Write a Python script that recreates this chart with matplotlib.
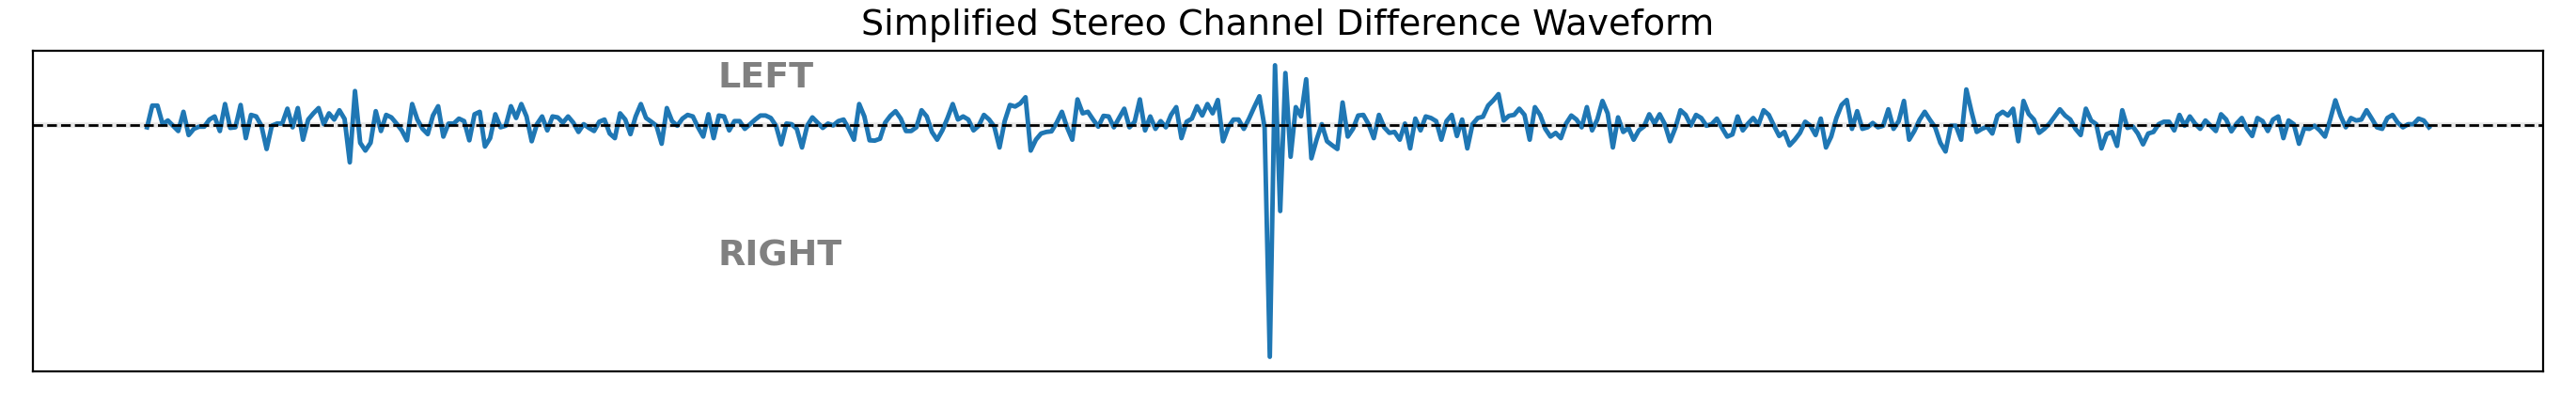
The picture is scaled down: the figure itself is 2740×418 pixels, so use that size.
import numpy as np
import matplotlib
matplotlib.use("Agg")
import matplotlib.pyplot as plt

title = "Simplified Stereo Channel Difference Waveform"
label_left = "LEFT"
label_right = "RIGHT"

# L-R difference amplitude (arbitrary units)
seg_a = [-7, 63, 63, 3, 15, -2, -19, 43, -32, -12, -5, -5, 18, 28, -19, 68, -9, -7, 65, -42,
         33, 28, -2, -77, -2, 5, 5, 53, -7, 55, -47, 18, 38, 55, 3, 38, 18, 48, 20]
seg_b = [-120, 110, -57, -82, -57, 45, -19, 33, 25, 5, -17, -49, 68, 18, -12, -29, 31, 61, -37, 5,
         5, 21, 13, -49, 35, 43, -69, -42, 35, -7, -2, 61, 23, 68, 28, -52, 3, 28, -17, 28]
seg_c = [25, 8, 28, 8, -22, 3, -9, -19, 11, 18, -27, -42, 38, 18, -29, 28, 68, 23, 11, -2,
         -60, 55, 13, -2, 21, 33, 28, -7, -37, 35, -42, 31, 28, -17, 13, 13, -12, 3, 18]
seg_d = [31, 31, 23, -2, -62, 5, 3, -12, -72, -2, 25, 8, -9, 5, -1, 13, 18, -12, -47, 68,
         28, -49, -50, -44, 8, 30, 45, 21, -19, -19, -7, 48, 28, -22, -47, -17, 23, 68, 18, 28]
seg_e = [18, -17, -2, 33, 18, -5, -72, 13, 65, 60, 70, 90, -82, -47, -27, -22, -20, 8, 43, -7,
         -47, 83, 38, 43, 18, -5, 30, 28, -7, 23, 53, -7, 11, 83, -17, 28, -12, 13, -7, 33]
seg_f = [58, -42, 11, 21, 61, 31, 68, 38, 81, -52, -7, 18, 18, -12, 21, 58, 93, -7, -747, 193,
         -277, 168, -102, 58, 28, 148, -107, -47, 3, -52, -65, -77, 73, -37, -12, 31, 33, 3, -42, 33]
seg_g = [-7, -25, -22, -47, 5, -75, 21, -17, 28, 23, 13, -47, 13, 33, -35, 18, -75, 3, 23, 27,
         63, 80, 100, 15, 30, 33, 53, 33, -47, 58, 33, -12, -37, -25, -42, 5, 31, 18, -7, 58]
seg_h = [-17, 18, 78, 38, -72, 25, -22, -9, -47, -17, -4, 35, 5, 35, 3, -52, -10, 48, 33, -1,
         33, 23, -2, 3, 21, -9, -37, -30, 28, -17, 5, 23, 1, 48, 33, -2, -35, -22, -65]
seg_i = [-47, -25, 11, -2, -32, 21, -72, -37, 23, 65, 81, -12, 45, -12, -7, 7, -7, -2, 51, -12,
         13, 78, -47, -19, 17, 43, 17, -7, -57, -85, -2, -2, -47, 115, 43, -22, -12, -5, -27, 31]
seg_j = [43, 31, 53, -52, 78, 36, 18, -25, -12, 5, 28, 51, 31, 18, -12, -32, 53, 15, 3, -75,
         -29, -22, -67, 48, -9, -4, -27, -62, -27, -22, 3, 11, 11, -17, 33, -2, 28, 5, -12, 15]
seg_k = [-2, -19, 35, 18, -20, 5, 23, -12, -35, 23, 13, -19, 18, 28, -42, 15, 3, -60, -10, -12,
         -2, -17, -37, 18, 80, 30, -7, 23, 15, 18, 48, 21, -7, -12, 23, 33, 8, -7, 3, 3, 21, 15, -7]

diff_values = np.array(seg_a + seg_b + seg_c + seg_d + seg_e + seg_f + seg_g + seg_h
                       + seg_i + seg_j + seg_k, dtype=float)
sample_index = np.arange(len(diff_values))

fig = plt.figure(figsize=(13.7, 2.09), dpi=200)
ax = fig.add_subplot(111)
fig.subplots_adjust(left=0.0128, right=0.9872, top=0.871, bottom=0.055)

ax.plot(sample_index, diff_values, color="#1f77b4", linewidth=1.75, zorder=2)
ax.axhline(0, color="lightgray", linewidth=2.0, alpha=0.5, zorder=1)
ax.axhline(0, color="black", linestyle="--", linewidth=1, zorder=3)

ax.text(0.273, 0.915, label_left, transform=ax.transAxes, ha="left", va="center",
        fontsize=13.7, fontweight="bold", color="gray")
ax.text(0.273, 0.36, label_right, transform=ax.transAxes, ha="left", va="center",
        fontsize=13.7, fontweight="bold", color="gray")

ax.set_xticks([])
ax.set_yticks([])
ax.set_title(title, fontsize=13.7)

fig.savefig("out.png", dpi=200)
